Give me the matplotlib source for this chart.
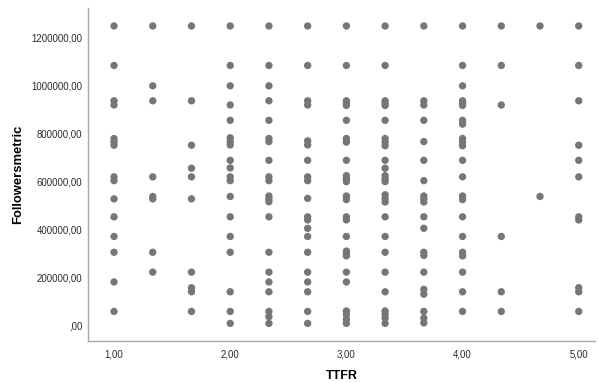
import matplotlib
matplotlib.use("Agg")
import matplotlib.pyplot as plt

# TTFR levels and Followersmetric values per level
x_levels = [1.00, 4/3, 5/3, 2.00, 7/3, 8/3, 3.00, 10/3, 11/3, 4.00, 13/3, 14/3, 5.00]

y_100 = [1250000, 1085000, 937500, 920000, 780000, 766000, 752000, 620000, 604000,
         528000, 453000, 371000, 305000, 181000, 58000]
y_133 = [1250000, 1000000, 937500, 620000, 538000, 528000, 305000, 222000]
y_167 = [1250000, 937500, 752000, 656000, 620000, 528000, 222000, 157000, 140000, 58000]
y_200 = [1250000, 1085000, 1000000, 920000, 856000, 783000, 767000, 753000, 689000,
         657000, 620000, 604000, 538000, 453000, 371000, 305000, 140000, 58000, 8000]
y_233 = [1250000, 1085000, 1000000, 937500, 856000, 780000, 767000, 689000, 620000,
         604000, 540000, 528000, 516000, 453000, 305000, 222000, 181000, 140000, 58000,
         36000, 8000]
y_267 = [1250000, 1085000, 937500, 920000, 770000, 753000, 689000, 620000, 604000,
         530000, 453000, 440000, 405000, 371000, 305000, 222000, 181000, 140000, 58000, 8000]
y_300 = [1250000, 1085000, 937500, 928000, 918000, 856000, 780000, 765000, 689000,
         625000, 612000, 600000, 540000, 525000, 453000, 440000, 371000, 310000, 300000,
         290000, 222000, 181000, 60000, 45000, 25000, 8000]
y_333 = [1250000, 1085000, 937500, 928000, 918000, 856000, 780000, 765000, 750000,
         689000, 656000, 625000, 612000, 600000, 545000, 530000, 515000, 453000, 371000,
         305000, 222000, 140000, 60000, 45000, 30000, 8000]
y_367 = [1250000, 937500, 920000, 856000, 767000, 689000, 604000, 540000, 528000, 515000,
         453000, 405000, 305000, 292000, 222000, 150000, 130000, 58000, 30000, 10000]
y_400 = [1250000, 1085000, 1000000, 937500, 928000, 918000, 856000, 840000, 780000,
         765000, 750000, 689000, 620000, 540000, 525000, 453000, 371000, 305000, 290000,
         222000, 140000, 58000]
y_433 = [1250000, 1085000, 920000, 371000, 140000, 58000]
y_467 = [1250000, 538000]
y_500 = [1250000, 1085000, 937500, 752000, 689000, 620000, 453000, 440000, 157000,
         140000, 58000]

y_columns = [y_100, y_133, y_167, y_200, y_233, y_267, y_300, y_333, y_367,
             y_400, y_433, y_467, y_500]

x_ticks = [1, 2, 3, 4, 5]
x_tick_labels = ["1,00", "2,00", "3,00", "4,00", "5,00"]
y_ticks = [0, 200000, 400000, 600000, 800000, 1000000, 1200000]
y_tick_labels = [",00", "200000,00", "400000,00", "600000,00", "800000,00",
                 "1000000,00", "1200000,00"]

fig = plt.figure(figsize=(5.98, 3.83), dpi=100)
ax = fig.add_axes([88/598, 1 - 341/383, (595 - 88)/598, (341 - 8)/383])

for xv, ys in zip(x_levels, y_columns):
    ax.scatter([xv] * len(ys), ys, s=28, color="#767676", edgecolors="none", zorder=3)

ax.set_xlim(0.776, 5.14)
ax.set_ylim(-65500, 1325000)

ax.set_xticks(x_ticks)
ax.set_xticklabels(x_tick_labels)
ax.set_yticks(y_ticks)
ax.set_yticklabels(y_tick_labels)

ax.tick_params(axis="both", length=0, labelsize=6.9, colors="#2a2a2a", pad=4)
ax.tick_params(axis="x", pad=6)
for lbl in ax.get_xticklabels() + ax.get_yticklabels():
    lbl.set_family("Liberation Sans")

for side in ["top", "right"]:
    ax.spines[side].set_visible(False)
for side in ["left", "bottom"]:
    ax.spines[side].set_color("#a8a8a8")
    ax.spines[side].set_linewidth(1.0)

ax.set_xlabel("TTFR", fontsize=9, fontweight="bold", family="Liberation Sans", labelpad=8)
ax.set_ylabel("Followersmetric", fontsize=9.4, fontweight="bold", family="Liberation Sans",
              labelpad=5)

fig.savefig("out.png", dpi=100)
